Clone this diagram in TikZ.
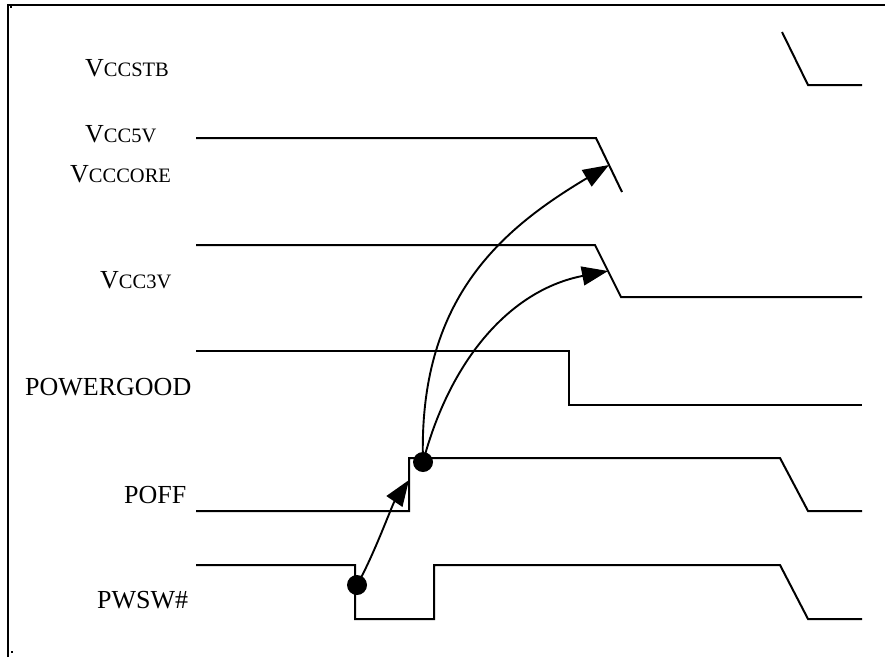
\documentclass[tikz,border=0pt]{standalone}
\usepackage{fontspec}
\setmainfont{Liberation Serif}
\usetikzlibrary{arrows.meta}
\newcommand{\bigsz}{\fontsize{26}{30}\selectfont}
\newcommand{\smsz}{\fontsize{20.5}{24}\selectfont}
\begin{document}
\begin{tikzpicture}[x=1pt,y=-1pt,
  wave/.style={line width=2pt, line join=miter},
  lbl/.style={anchor=base west, inner sep=0pt, font=\bigsz},
  dotn/.style={circle, fill=black, minimum size=20pt, inner sep=0pt},
  causal/.style={line width=1.9pt, -{Triangle[length=26pt,width=19pt]}},
  frame/.style={line width=2.6pt}]
\useasboundingbox (0,0) rectangle (885,657);
% frame
\draw[frame] (8,657) -- (8,5) -- (885,5);
\fill (10,6) rectangle (12,8);
\fill (11,651) rectangle (13,653);
% labels
\node[lbl] (lstb) at (85,76) {V\smsz CCSTB};
\node[lbl] (l5v) at (85,142) {V\smsz CC5V};
\node[lbl] (lcore) at (70,182) {V\smsz CCCORE};
\node[lbl] (l3v) at (100,288) {V\smsz CC3V};
\node[lbl] (lpg) at (25,395) {POWERGOOD};
\node[lbl] (lpoff) at (124,503) {POFF};
\node[lbl] (lpwsw) at (97,608) {PWSW\#};
% waveforms
\draw[wave] (782,32) -- (808,85) -- (862,85);
\draw[wave] (196,138) -- (596,138) -- (622,192);
\draw[wave] (196,245) -- (595,245) -- (621,297) -- (862,297);
\draw[wave] (196,351) -- (569,351) -- (569,405) -- (862,405);
\draw[wave] (196,511) -- (409,511) -- (409,458) -- (780,458) -- (808,511) -- (862,511);
\draw[wave] (196,565) -- (355,565) -- (355,619) -- (434,619) -- (434,565) -- (780,565) -- (808,619) -- (862,619);
% event dots
\node[dotn] (d1) at (357,585) {};
\node[dotn] (d2) at (423,462) {};
\coordinate (t1) at (409,480);
\coordinate (t2) at (609,165);
\coordinate (t3) at (608,271);
% causal arrows
\draw[causal] (d1.center) .. controls (374,555) and (392,505) .. (t1);
\draw[causal] (d2.center) .. controls (418,300) and (500,230) .. (t2);
\draw[causal] (d2.center) .. controls (450,360) and (510,290) .. (t3);
\end{tikzpicture}
\end{document}
